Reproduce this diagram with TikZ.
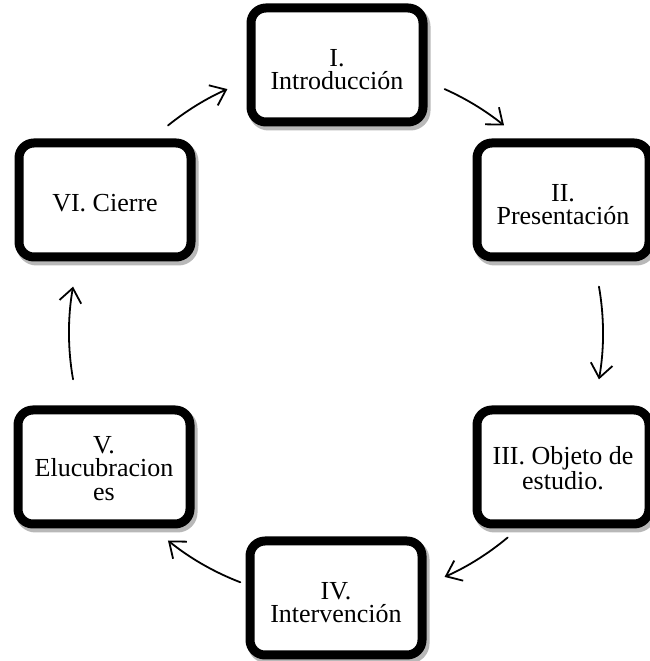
\documentclass[tikz,border=0pt]{standalone}
\usepackage{fontspec}
\setmainfont{Liberation Serif}
\usetikzlibrary{shadows,arrows.meta}
\newcommand{\lift}[1]{\rule{0pt}{#1pt}}
\begin{document}
\begin{tikzpicture}[x=1pt,y=1pt,
  stage/.style={draw=black, line width=9pt, rounded corners=15pt, fill=white,
    minimum width=172pt, minimum height=114pt, inner sep=0pt, align=center,
    font=\fontsize{26}{23.5}\selectfont,
    drop shadow={shadow xshift=2.5pt, shadow yshift=-3.5pt, opacity=.28,
      fill=black, draw=black, line width=10pt}},
  cyc/.style={line width=1.8pt, line cap=round, line join=round,
    -{Straight Barb[length=14pt,width=22pt,line width=1.8pt]}}]
\useasboundingbox (0,0) rectangle (650,661);

% stages of the cycle
\node[stage] (s1) at (337,596) {\lift{26}I.\\Introducción};
\node[stage] (s2) at (563,461) {\lift{26}II.\\Presentación};
\node[stage] (s3) at (563,194) {\lift{20}III. Objeto de\\estudio.};
\node[stage] (s4) at (336,63)  {\lift{26}IV.\\Intervención};
\node[stage] (s5) at (104,194) {\lift{20}V.\\Elucubracion\\es};
\node[stage] (s6) at (105,461) {\lift{23}VI. Cierre};

% arrows on the circle through the stages
\coordinate (C) at (336,328);
\draw[cyc] ([shift={(129:267)}]C) arc[start angle=129, end angle=114, radius=267pt];
\draw[cyc] ([shift={(66:267)}]C)  arc[start angle=66,  end angle=51,  radius=267pt];
\draw[cyc] ([shift={(10:267)}]C)  arc[start angle=10,  end angle=-10, radius=267pt];
\draw[cyc] ([shift={(-50:267)}]C) arc[start angle=-50, end angle=-66, radius=267pt];
\draw[cyc] ([shift={(-111:267)}]C) arc[start angle=-111, end angle=-129, radius=267pt];
\draw[cyc] ([shift={(190:267)}]C) arc[start angle=190, end angle=170, radius=267pt];
\end{tikzpicture}
\end{document}
